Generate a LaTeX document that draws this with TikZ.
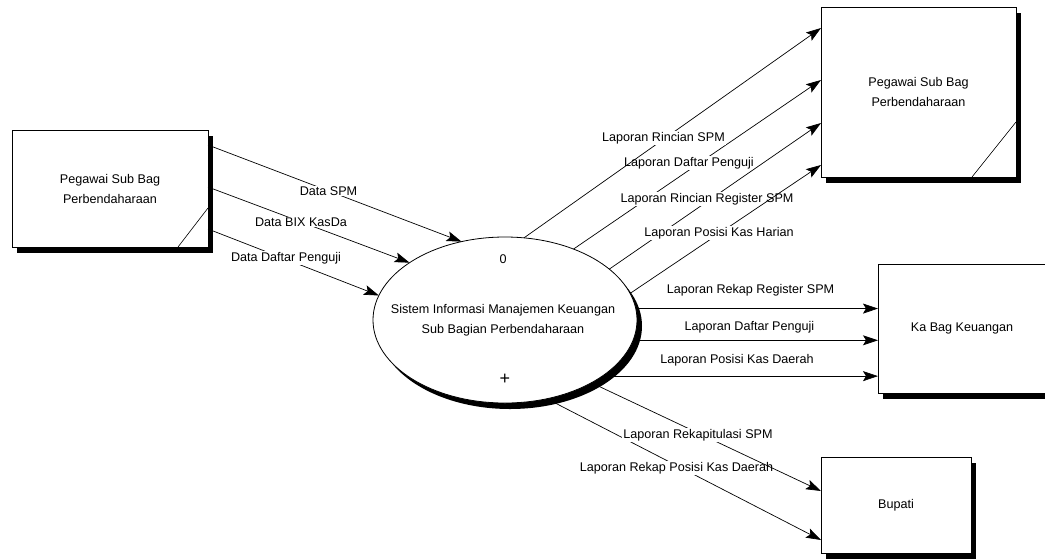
\documentclass[tikz,border=0pt]{standalone}
\usepackage{fontspec}
\setmainfont{Liberation Sans}
\usetikzlibrary{shapes.geometric,arrows.meta,shadows}
\begin{document}
\begin{tikzpicture}[x=1pt,y=-1pt,
  font=\fontsize{12.6}{20}\selectfont,
  boxshadow/.style={general shadow={fill=black, shadow xshift=5pt, shadow yshift=-6pt}},
  entity/.style={rectangle, draw=black, line width=0.8pt, fill=white, inner sep=0pt, outer sep=0pt, align=center, boxshadow},
  proc/.style={ellipse, draw=black, line width=0.8pt, fill=white, inner sep=0pt, outer sep=0pt, minimum width=264pt, minimum height=166pt, boxshadow},
  flow/.style={-{Stealth[length=15pt,width=10pt,inset=3pt]}, line width=0.7pt},
  lbl/.style={fill=white, inner sep=1pt},
  cornerline/.style={line width=0.6pt}
]
\useasboundingbox (0,0) rectangle (1045,558);

% entities
\node[entity, minimum width=196pt, minimum height=117pt] (src) at (110,188.5) {Pegawai Sub Bag\\Perbendaharaan};
\node[entity, minimum width=195pt, minimum height=170pt] (peg) at (918.5,92) {Pegawai Sub Bag\\Perbendaharaan};
\node[entity, minimum width=168pt, minimum height=129pt] (kabag) at (962,328.5) {Ka Bag Keuangan};
\node[entity, minimum width=150pt, minimum height=96pt] (bupati) at (896,505) {Bupati};

\draw[cornerline] ([xshift=-30pt]src.south east) -- ([yshift=39pt]src.south east);
\draw[cornerline] ([xshift=-44pt]peg.south east) -- ([yshift=55pt]peg.south east);

% process
\node[proc] (proc) at (505,320) {};
\node[align=center] (ptext) at (503,320) {Sistem Informasi Manajemen Keuangan\\Sub Bagian Perbendaharaan};
\node (num) at (503,259) {0};
\node[font=\fontsize{18}{20}\selectfont] (plus) at (505,379) {+};

% inputs
\draw[flow] (src.east |- 0,145) -- (proc.119.6) node[lbl] (l1) at (328.5,191) {Data SPM};
\draw[flow] (src.east |- 0,187) -- (proc.149.2) node[lbl] (l2) at (301,222) {Data BIX KasDa};
\draw[flow] (src.east |- 0,229) -- (proc.169.4) node[lbl] (l3) at (286,258) {Data Daftar Penguji};

% outputs to Pegawai Sub Bag
\draw[flow] (proc.46.6) -- (peg.west |- 0,80) node[lbl] (l5) at (689,163) {Laporan Daftar Penguji};
\draw[flow] (proc.77.6) -- (peg.west |- 0,28) node[lbl] (l4) at (663.5,138) {Laporan Rincian SPM};
\draw[flow] (proc.26.8) -- (peg.west |- 0,123) node[lbl] (l6) at (707,199) {Laporan Rincian Register SPM};
\draw[flow] (proc.12.7) -- (peg.west |- 0,165) node[lbl] (l7) at (719,233) {Laporan Posisi Kas Harian};

% outputs to Ka Bag Keuangan
\draw[flow] (proc.5.7) -- (kabag.west |- proc.5.7) node[lbl] (l8) at (750.5,290.5) {Laporan Rekap Register SPM};
\draw[flow] (proc.-9.8) -- (kabag.west |- proc.-9.8) node[lbl] (l9) at (749.5,327) {Laporan Daftar Penguji};
\draw[flow] (proc.-30.7) -- (kabag.west |- proc.-30.7) node[lbl] (l10) at (737,360) {Laporan Posisi Kas Daerah};

% outputs to Bupati
\draw[flow] (proc.-62.3) -- (bupati.west |- 0,540) node[lbl] (l12) at (676.5,468) {Laporan Rekap Posisi Kas Daerah};
\draw[flow] (proc.-36.1) -- (bupati.west |- 0,491) node[lbl] (l11) at (698,435) {Laporan Rekapitulasi SPM};
\end{tikzpicture}
\end{document}
